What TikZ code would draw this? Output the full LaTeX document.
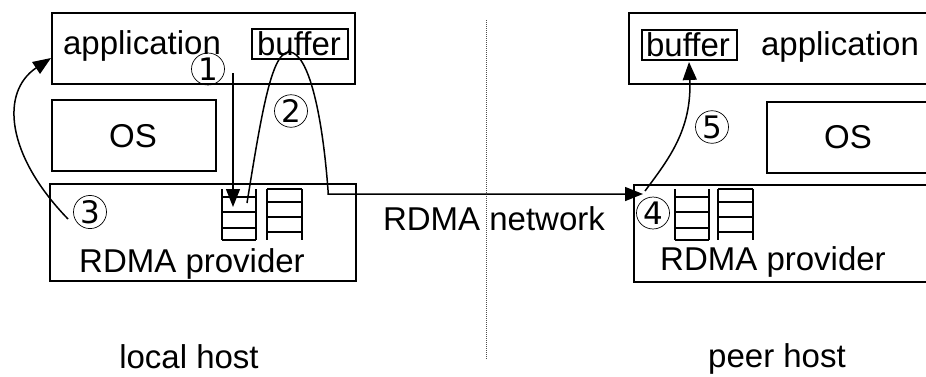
\documentclass[tikz,border=0pt]{standalone}
\usepackage{fontspec}
\setmainfont{Liberation Sans}
\newfontfamily\digitfont{DejaVu Sans}
\usetikzlibrary{arrows.meta,shapes.geometric}
\begin{document}
\begin{tikzpicture}[x=1pt,y=-1pt,
  box/.style={draw, line width=1.5pt, rectangle, anchor=north west, inner sep=0pt},
  lbl/.style={font=\fontsize{33}{40}\selectfont, inner sep=0pt, anchor=base},
  num/.style={ellipse, draw, line width=0.7pt, inner sep=0pt,
    minimum width=33pt, minimum height=31pt,
    font=\digitfont\fontsize{31}{36}\selectfont},
  flow/.style={line width=1.5pt, -{Triangle[length=18pt,width=14pt]}},
  queue/.style={line width=1.5pt}
]
\clip (0,0) rectangle (926,376);

% local host
\node[box, minimum width=303pt, minimum height=71pt] (lapp) at (51,12) {};
\node[box, minimum width=164pt, minimum height=71pt] (los) at (51,99) {};
\node[box, minimum width=306pt, minimum height=97pt] (lrdma) at (49,183) {};
\node[box, minimum width=96pt, minimum height=30pt] (lbuf) at (251,28) {};
\node[lbl] (tlapp) at (142,54) {application};
\node[lbl] (tlbuf) at (299,55) {buffer};
\node[lbl] (tlos) at (133,147) {OS};
\node[lbl] (tlrdma) at (192,272) {RDMA provider};
\node[lbl] (tlocal) at (189,368) {local host};

% peer host
\node[box, minimum width=320pt, minimum height=71pt] (rapp) at (628,12) {};
\node[box, minimum width=180pt, minimum height=71pt] (ros) at (766,101) {};
\node[box, minimum width=310pt, minimum height=97pt] (rrdma) at (633,184) {};
\node[box, minimum width=95pt, minimum height=30pt] (rbuf) at (641,29) {};
\node[lbl] (trapp) at (840,55) {application};
\node[lbl] (trbuf) at (688,56) {buffer};
\node[lbl] (tros) at (848,148) {OS};
\node[lbl] (trrdma) at (773,270) {RDMA provider};
\node[lbl] (tpeer) at (777,367) {peer host};

% network
\draw[dash pattern=on 1pt off 1pt, line width=0.8pt, black!70] (486,20) -- (486,360);
\node[lbl] (tnet) at (494,230) {RDMA network};

% queues
\foreach \x in {222,675} {
  \draw[queue] (\x,189) -- (\x,240) (\x+34,189) -- (\x+34,240);
  \foreach \y in {197,212,228,240} \draw[queue] (\x,\y) -- (\x+34,\y);
}
\foreach \x in {267,718} {
  \draw[queue] (\x,189) -- (\x,240) (\x+35,189) -- (\x+35,240);
  \foreach \y in {189,202,217,232} \draw[queue] (\x,\y) -- (\x+35,\y);
}

% step labels
\node[num] (n1) at (208,69) {1};
\node[num] (n2) at (291,111) {2};
\node[num] (n3) at (90,212) {3};
\node[num] (n4) at (653,213) {4};
\node[num] (n5) at (712,127) {5};

% connectors
\coordinate (p1s) at (233,73);
\coordinate (p1e) at (233,207);
\coordinate (p2s) at (247,203);
\coordinate (p2top) at (290,52);
\coordinate (p2bend) at (328,190);
\coordinate (p2out) at (328,194);
\coordinate (p2tip) at (643,194);
\coordinate (p3s) at (68,219);
\coordinate (p3e) at (51,58);
\coordinate (p5s) at (645,191);
\coordinate (p5e) at (689,62);

\draw[flow, line width=1.3pt] (p1s) -- (p1e);
\draw[flow] (p2s) .. controls (262,110) and (272,50) .. (p2top)
  .. controls (308,54) and (322,110) .. (p2bend) -- (p2out) -- (p2tip);
\draw[flow] (p3s) .. controls (6,155) and (0,92) .. (p3e);
\draw[flow] (p5s) .. controls (668,160) and (692,130) .. (p5e);
\end{tikzpicture}
\end{document}
